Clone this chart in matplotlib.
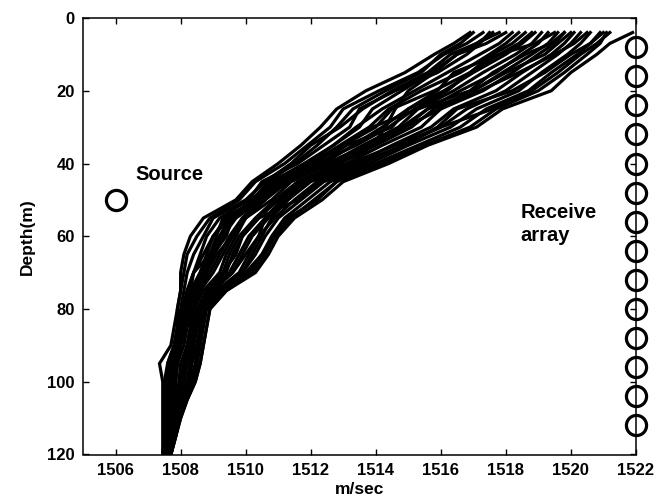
import matplotlib
matplotlib.use('Agg')
import matplotlib.pyplot as plt

plt.rcParams['font.family'] = ['Liberation Sans', 'DejaVu Sans']
plt.rcParams['font.weight'] = 'bold'

# CTD depth grid (m) shared by every sound speed cast
depths = [4, 7, 10, 15, 20, 25, 30, 35, 40, 45, 50, 55, 60, 65, 70, 75, 80,
          85, 90, 95, 100, 105, 110, 115, 120]

# sound speed casts (m/s), one row per cast
speed_profiles = [
    [1516.9, 1516.4, 1515.8, 1514.9, 1513.7, 1512.8, 1512.3, 1511.7, 1511.0, 1510.2, 1509.7, 1508.7, 1508.3,
     1508.1, 1508.0, 1508.0, 1507.9, 1507.8, 1507.7, 1507.35, 1507.45, 1507.45, 1507.45, 1507.45, 1507.45],
    [1517.3, 1516.8, 1516.1, 1515.3, 1514.1, 1513.0, 1512.6, 1511.9, 1511.2, 1510.3, 1509.8, 1508.9, 1508.5,
     1508.2, 1508.1, 1508.0, 1507.9, 1507.9, 1507.8, 1507.6, 1507.5, 1507.5, 1507.5, 1507.5, 1507.5],
    [1517.8, 1517.1, 1516.3, 1515.6, 1514.5, 1513.6, 1512.9, 1512.0, 1511.4, 1510.6, 1510.0, 1509.0, 1508.7,
     1508.4, 1508.2, 1508.1, 1508.0, 1507.9, 1507.8, 1507.6, 1507.6, 1507.55, 1507.5, 1507.5, 1507.5],
    [1517.5, 1517.2, 1516.8, 1515.9, 1514.6, 1513.5, 1513.2, 1512.4, 1511.6, 1510.5, 1510.1, 1509.2, 1508.8,
     1508.6, 1508.4, 1508.2, 1508.1, 1508.0, 1507.9, 1507.7, 1507.65, 1507.6, 1507.55, 1507.5, 1507.5],
    [1518.2, 1517.8, 1517.2, 1516.2, 1515.2, 1514.2, 1513.4, 1512.7, 1511.8, 1510.8, 1510.3, 1509.4, 1509.0,
     1508.8, 1508.6, 1508.3, 1508.2, 1508.0, 1507.9, 1507.7, 1507.7, 1507.65, 1507.6, 1507.55, 1507.5],
    [1518.4, 1518.0, 1517.5, 1516.6, 1515.4, 1514.4, 1513.8, 1512.9, 1512.0, 1511.0, 1510.4, 1509.6, 1509.2,
     1508.9, 1508.7, 1508.4, 1508.2, 1508.1, 1508.0, 1507.8, 1507.75, 1507.7, 1507.6, 1507.55, 1507.55],
    [1518.6, 1518.2, 1517.6, 1516.9, 1515.8, 1514.5, 1514.0, 1513.0, 1512.1, 1511.1, 1510.5, 1509.7, 1509.3,
     1509.0, 1508.8, 1508.5, 1508.3, 1508.1, 1508.0, 1507.85, 1507.8, 1507.7, 1507.65, 1507.6, 1507.55],
    [1518.9, 1518.5, 1518.0, 1517.0, 1516.1, 1515.0, 1514.2, 1513.3, 1512.4, 1511.3, 1510.6, 1509.9, 1509.5,
     1509.2, 1508.9, 1508.6, 1508.4, 1508.2, 1508.1, 1507.9, 1507.85, 1507.8, 1507.7, 1507.6, 1507.55],
    [1519.1, 1518.8, 1518.3, 1517.3, 1516.4, 1515.3, 1514.7, 1513.6, 1512.6, 1511.4, 1510.8, 1510.0, 1509.7,
     1509.4, 1509.2, 1508.7, 1508.4, 1508.3, 1508.2, 1508.0, 1507.95, 1507.85, 1507.7, 1507.65, 1507.55],
    [1519.3, 1519.0, 1518.5, 1517.7, 1516.6, 1515.6, 1514.9, 1513.8, 1512.8, 1511.6, 1510.9, 1510.3, 1509.8,
     1509.5, 1509.3, 1508.8, 1508.5, 1508.35, 1508.25, 1508.1, 1508.0, 1507.9, 1507.75, 1507.7, 1507.6],
    [1519.6, 1519.3, 1518.8, 1517.9, 1517.0, 1515.8, 1515.1, 1514.0, 1512.9, 1511.7, 1511.0, 1510.4, 1509.9,
     1509.6, 1509.4, 1508.9, 1508.55, 1508.4, 1508.3, 1508.15, 1508.1, 1507.95, 1507.8, 1507.7, 1507.6],
    [1519.8, 1519.5, 1519.0, 1518.2, 1517.3, 1516.0, 1515.4, 1514.2, 1513.1, 1511.8, 1511.1, 1510.6, 1510.1,
     1509.8, 1509.5, 1509.0, 1508.6, 1508.5, 1508.35, 1508.2, 1508.1, 1508.0, 1507.8, 1507.75, 1507.6],
    [1520.1, 1519.8, 1519.4, 1518.5, 1517.7, 1516.4, 1515.7, 1514.5, 1513.4, 1512.0, 1511.3, 1510.7, 1510.2,
     1509.9, 1509.6, 1509.0, 1508.65, 1508.5, 1508.4, 1508.3, 1508.2, 1508.0, 1507.85, 1507.75, 1507.65],
    [1520.3, 1520.0, 1519.6, 1518.8, 1518.0, 1516.8, 1516.0, 1514.8, 1513.6, 1512.2, 1511.5, 1510.9, 1510.4,
     1510.1, 1509.8, 1509.1, 1508.7, 1508.6, 1508.5, 1508.35, 1508.25, 1508.05, 1507.9, 1507.8, 1507.65],
    [1520.6, 1520.3, 1519.9, 1519.1, 1518.4, 1517.1, 1516.3, 1515.0, 1513.8, 1512.4, 1511.7, 1511.0, 1510.6,
     1510.3, 1509.9, 1509.2, 1508.75, 1508.65, 1508.55, 1508.45, 1508.3, 1508.1, 1507.9, 1507.8, 1507.7],
    [1520.9, 1520.6, 1520.2, 1519.4, 1518.7, 1517.4, 1516.6, 1515.3, 1514.0, 1512.6, 1511.9, 1511.2, 1510.8,
     1510.5, 1510.1, 1509.3, 1508.8, 1508.7, 1508.6, 1508.5, 1508.4, 1508.15, 1507.95, 1507.85, 1507.7],
    [1521.1, 1520.9, 1520.5, 1519.8, 1519.0, 1517.7, 1516.9, 1515.5, 1514.2, 1512.8, 1512.1, 1511.4, 1510.9,
     1510.6, 1510.2, 1509.4, 1508.9, 1508.8, 1508.7, 1508.6, 1508.45, 1508.2, 1508.0, 1507.85, 1507.7],
    [1521.9, 1521.2, 1520.8, 1520.0, 1519.4, 1517.9, 1517.1, 1515.6, 1514.4, 1513.0, 1512.35, 1511.5, 1511.0,
     1510.7, 1510.3, 1509.4, 1508.9, 1508.8, 1508.7, 1508.6, 1508.45, 1508.2, 1508.0, 1507.85, 1507.7],
    [1520.5, 1520.1, 1519.5, 1518.4, 1517.2, 1515.6, 1514.8, 1513.7, 1512.5, 1511.2, 1510.5, 1509.5, 1509.0,
     1508.7, 1508.4, 1508.2, 1508.05, 1507.95, 1507.85, 1507.7, 1507.6, 1507.5, 1507.5, 1507.5, 1507.45],
    [1517.6, 1517.1, 1516.5, 1515.8, 1515.0, 1514.6, 1514.3, 1513.9, 1513.2, 1511.9, 1511.3, 1510.8, 1510.5,
     1510.2, 1509.9, 1509.2, 1508.7, 1508.6, 1508.5, 1508.3, 1508.2, 1508.0, 1507.8, 1507.7, 1507.6],
    [1519.5, 1518.9, 1517.8, 1516.4, 1515.9, 1515.0, 1514.5, 1513.1, 1512.3, 1510.9, 1510.4, 1509.3, 1509.1,
     1508.9, 1508.4, 1508.3, 1508.1, 1508.0, 1507.9, 1507.75, 1507.8, 1507.65, 1507.6, 1507.55, 1507.5],
    [1518.0, 1517.4, 1516.5, 1515.7, 1514.8, 1513.9, 1513.5, 1512.7, 1511.9, 1511.0, 1510.6, 1510.0, 1509.6,
     1509.1, 1508.8, 1508.5, 1508.3, 1508.15, 1508.0, 1507.9, 1507.85, 1507.75, 1507.65, 1507.6, 1507.5],
    [1521.0, 1520.6, 1520.0, 1519.2, 1518.2, 1516.5, 1515.9, 1514.9, 1513.4, 1512.3, 1511.6, 1510.4, 1509.9,
     1509.7, 1509.3, 1508.9, 1508.5, 1508.4, 1508.3, 1508.2, 1508.1, 1507.95, 1507.8, 1507.7, 1507.65],
    [1517.0, 1516.6, 1516.0, 1515.4, 1514.3, 1513.3, 1512.8, 1512.2, 1511.5, 1510.7, 1510.2, 1509.6, 1509.4,
     1509.0, 1508.7, 1508.4, 1508.2, 1508.1, 1507.95, 1507.8, 1507.7, 1507.6, 1507.55, 1507.5, 1507.5],
    [1520.0, 1519.6, 1519.2, 1518.0, 1517.0, 1516.0, 1514.9, 1513.9, 1512.7, 1511.8, 1511.2, 1510.6, 1510.4,
     1510.0, 1509.6, 1508.9, 1508.6, 1508.5, 1508.4, 1508.3, 1508.3, 1508.1, 1507.9, 1507.75, 1507.65],
    [1518.8, 1518.4, 1517.8, 1516.9, 1516.2, 1515.2, 1514.4, 1513.4, 1512.2, 1511.2, 1510.5, 1509.9, 1509.6,
     1509.3, 1509.0, 1508.6, 1508.4, 1508.3, 1508.2, 1508.1, 1508.0, 1507.8, 1507.7, 1507.6, 1507.55],
    [1519.8, 1519.4, 1518.6, 1517.6, 1516.9, 1515.3, 1513.9, 1513.0, 1512.0, 1510.8, 1510.2, 1509.5, 1509.2,
     1508.9, 1508.6, 1508.35, 1508.2, 1508.1, 1507.9, 1507.8, 1507.75, 1507.7, 1507.6, 1507.55, 1507.5],
    [1521.2, 1520.8, 1520.3, 1519.6, 1518.8, 1517.6, 1516.0, 1514.6, 1513.2, 1512.8, 1512.2, 1511.3, 1510.9,
     1510.5, 1510.0, 1509.2, 1508.75, 1508.65, 1508.6, 1508.5, 1508.35, 1508.1, 1507.95, 1507.8, 1507.7],
]

# source and vertical receive array geometry
source_speed, source_depth = 1506, 50
array_speed = 1522
receiver_depths = [8, 16, 24, 32, 40, 48, 56, 64, 72, 80, 88, 96, 104, 112]

fig = plt.figure(figsize=(6.7, 5), dpi=100)
ax = fig.add_axes([0.124, 0.091, 0.825, 0.873])

for prof in speed_profiles:
    ax.plot(prof, depths, color='black', linewidth=2.3, solid_joinstyle='miter')

ax.plot([source_speed], [source_depth], 'o', markersize=14.5, markerfacecolor='none',
        markeredgecolor='black', markeredgewidth=2.3)
ax.plot([array_speed] * len(receiver_depths), receiver_depths, 'o', markersize=14.5,
        markerfacecolor='none', markeredgecolor='black', markeredgewidth=2.3, clip_on=False, zorder=5)

ax.text(1506.6, 43, 'Source', fontsize=14.5, fontweight='bold', va='center', ha='left')
ax.text(1518.45, 53.4, 'Receive', fontsize=14.5, fontweight='bold', va='center', ha='left')
ax.text(1518.45, 59.8, 'array', fontsize=14.5, fontweight='bold', va='center', ha='left')

ax.set_xlim(1505, 1522)
ax.set_ylim(120, 0)
ax.set_xticks(range(1506, 1523, 2))
ax.set_yticks(range(0, 121, 20))
ax.tick_params(direction='in', length=4, width=1, labelsize=12, top=True, right=True, pad=6)
for lab in ax.get_xticklabels() + ax.get_yticklabels():
    lab.set_fontweight('bold')
for sp in ax.spines.values():
    sp.set_linewidth(1.1)

ax.set_xlabel('m/sec', fontsize=12.5, fontweight='bold', labelpad=3)
ax.set_ylabel('Depth(m)', fontsize=12.5, fontweight='bold', labelpad=9)

plt.savefig('out.png', dpi=100)
plt.close()
